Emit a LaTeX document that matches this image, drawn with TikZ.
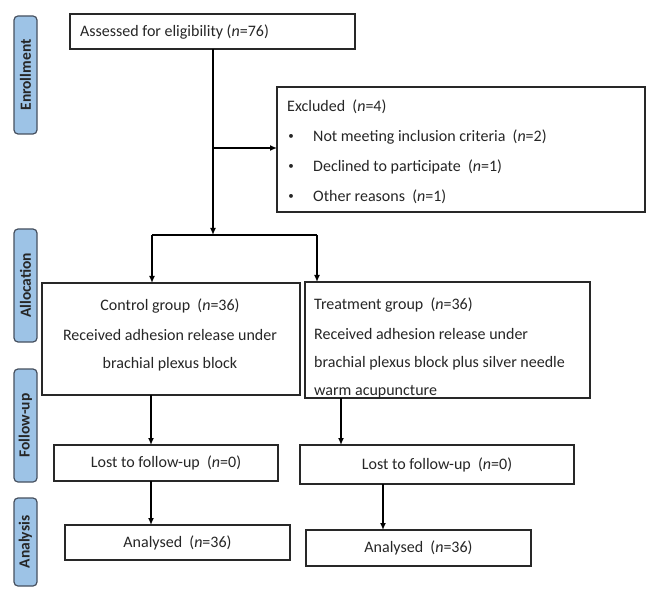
\documentclass[tikz,border=0pt]{standalone}
\usepackage{fontspec}
\setmainfont{Carlito}
\usetikzlibrary{arrows.meta}
\definecolor{sidefill}{RGB}{157,195,230}
\definecolor{sidedraw}{RGB}{70,80,95}
\definecolor{boxline}{RGB}{40,40,40}
\begin{document}
\begin{tikzpicture}[x=1pt,y=-1pt,
  box/.style={draw=boxline,line width=1.6pt,inner sep=0pt,outer sep=0pt,anchor=north west},
  txt/.style={font=\fontsize{16}{18}\selectfont,inner sep=0pt,text=black!85},
  bul/.style={font=\fontsize{11}{12}\selectfont,inner sep=0pt,text=black!85},
  side/.style={draw=sidedraw,fill=sidefill,line width=1.2pt,rounded corners=4pt,rotate=90,minimum height=23pt,inner sep=0pt,font=\bfseries\fontsize{15.5}{18}\selectfont,text=black!85},
  conn/.style={line width=1.4pt,-{Latex[length=7pt,width=6pt]}},
  plain/.style={line width=1.4pt}
  ]
\useasboundingbox[fill=white] (0,0) rectangle (647,593);

% side labels
\node[side,minimum width=118pt] (enr) at (25.5,75) {Enrollment};
\node[side,minimum width=113pt] (alloc) at (25.5,285.5) {Allocation};
\node[side,minimum width=113pt] (fup) at (25.5,425.5) {Follow-up};
\node[side,minimum width=88pt] (ana) at (25.5,542) {Analysis};

% boxes
\node[box,minimum width=285pt,minimum height=35pt] (assess) at (70,14) {};
\node[txt,anchor=west] (assesst) at (80,32) {Assessed for eligibility (\textit{n}=76)};

\node[box,minimum width=368pt,minimum height=125pt] (excl) at (277,87) {};
\node[txt,anchor=west] (ex0) at (287,107) {Excluded\ \ (\textit{n}=4)};
\node[bul] (b1) at (291,137) {•};
\node[bul] (b2) at (291,167) {•};
\node[bul] (b3) at (291,197) {•};
\node[txt,anchor=west] (ex1) at (313,137) {Not meeting inclusion criteria\ \ (\textit{n}=2)};
\node[txt,anchor=west] (ex2) at (313,167) {Declined to participate\ \ (\textit{n}=1)};
\node[txt,anchor=west] (ex3) at (313,197) {Other reasons\ \ (\textit{n}=1)};

\node[box,minimum width=258pt,minimum height=112pt] (ctrl) at (42,283) {};
\node[txt] (ct1) at (170,306) {Control group\ \ (\textit{n}=36)};
\node[txt] (ct2) at (170,335) {Received adhesion release under};
\node[txt] (ct3) at (170,364) {brachial plexus block};

\node[box,minimum width=285pt,minimum height=116pt] (treat) at (305,282) {};
\node[txt,anchor=west] (tr1) at (314,305) {Treatment group\ \ (\textit{n}=36)};
\node[txt,anchor=west] (tr2) at (314,334) {Received adhesion release under};
\node[txt,anchor=west] (tr3) at (314,363) {brachial plexus block plus silver needle};
\node[txt,anchor=west] (tr4) at (314,392) {warm acupuncture};

\node[box,minimum width=224pt,minimum height=36pt] (lostL) at (54,445) {};
\node[txt] (lostLt) at (lostL.center) {Lost to follow-up\ \ (\textit{n}=0)};
\node[box,minimum width=274pt,minimum height=39pt] (lostR) at (300,445) {};
\node[txt] (lostRt) at (lostR.center) {Lost to follow-up\ \ (\textit{n}=0)};

\node[box,minimum width=225pt,minimum height=35pt] (anaL) at (65,525) {};
\node[txt] (anaLt) at (anaL.center) {Analysed\ \ (\textit{n}=36)};
\node[box,minimum width=225pt,minimum height=36pt] (anaR) at (306,530) {};
\node[txt] (anaRt) at (anaR.center) {Analysed\ \ (\textit{n}=36)};

% connectors
\coordinate (split) at (213,235);
\coordinate (exj) at (213,148);
\coordinate (bl) at (152,235);
\coordinate (br) at (317,235);
\coordinate (c1) at (151,0);
\coordinate (c2) at (341,0);
\coordinate (c3) at (383,0);

\draw[conn] (assess.south -| split) -- (split);
\draw[conn] (exj) -- (excl.west |- exj);
\draw[plain] (bl) -- (br);
\draw[conn] (bl) -- (ctrl.north -| bl);
\draw[conn] (br) -- (treat.north -| br);
\draw[conn] (ctrl.south -| c1) -- (lostL.north -| c1);
\draw[conn] (lostL.south -| c1) -- (anaL.north -| c1);
\draw[conn] (treat.south -| c2) -- (lostR.north -| c2);
\draw[conn] (lostR.south -| c3) -- (anaR.north -| c3);
\end{tikzpicture}
\end{document}
